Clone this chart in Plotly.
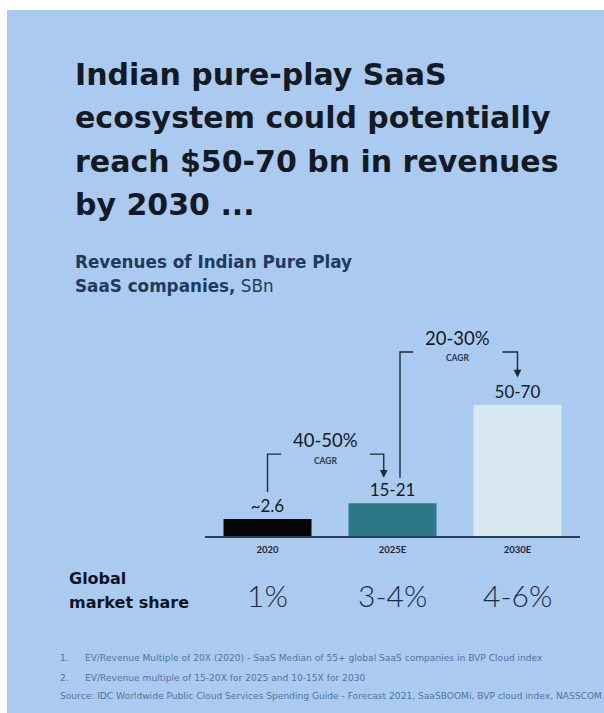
import plotly.graph_objects as go

# ---------------- data ----------------
years = ["2020", "2025E", "2030E"]
revenue_labels = ["~2.6", "15-21", "50-70"]          # $Bn, as printed
bar_heights = [2.6, 5.0, 20.0]                        # drawn heights (chart is not to scale)
bar_colors = ["#060606", "#2b7886", "#d8e8f1"]
market_share = ["1%", "3-4%", "4-6%"]
cagr_labels = ["40-50%", "20-30%"]
title_lines = ["Indian pure-play SaaS", "ecosystem could potentially",
               "reach $50-70 bn in revenues", "by 2030 ..."]
subtitle_lines = ["<b>Revenues of Indian Pure Play</b>", "<b>SaaS companies,</b> SBn"]
footnotes = [
    ("1.", "EV/Revenue Multiple of 20X (2020) - SaaS Median of 55+ global SaaS companies in BVP Cloud index"),
    ("2.", "EV/Revenue multiple of 15-20X for 2025 and 10-15X for 2030"),
]
source = "Source: IDC Worldwide Public Cloud Services Spending Guide - Forecast 2021, SaaSBOOMi, BVP cloud index, NASSCOM"

W, H = 604, 713
BG = "#aacbef"
INK = "#131a24"
NAVY = "#1e3a5c"

def px_x(p):
    return p / W

def px_y(p):
    return 1 - p / H

fig = go.Figure()
fig.add_trace(go.Bar(
    x=list(range(len(years))), y=bar_heights, marker=dict(color=bar_colors, line=dict(width=0)),
    text=revenue_labels, textposition="outside", cliponaxis=False,
    textfont=dict(family="Lato", size=17, color=INK),
    hoverinfo="skip", width=0.704,
))

shapes = [
    dict(type="rect", xref="paper", yref="paper", x0=px_x(7), x1=1, y0=0, y1=px_y(10),
         fillcolor=BG, line=dict(width=0), layer="below"),
]
line_style = dict(color="#1f2b38", width=1.4)

# CAGR brackets: (left x, bottom y, top y, left end, right start, right x, arrow tip y)
brackets = [
    (0.0, 6.7, 12.5, 0.11, 0.82, 0.93, 8.9),
    (1.06, 8.9, 28.1, 1.165, 1.88, 2.0, 24.2),
]
annotations = []
for (lx, yb, yt, le, rs, rx, tip), lab in zip(brackets, cagr_labels):
    shapes.append(dict(type="path", xref="x", yref="y",
                       path=f"M {lx},{yb} L {lx},{yt} L {le},{yt}", line=line_style))
    shapes.append(dict(type="path", xref="x", yref="y",
                       path=f"M {rs},{yt} L {rx},{yt} L {rx},{tip + 1.2}", line=line_style))
    annotations.append(dict(x=rx, y=tip, ax=rx, ay=tip + 1.6, xref="x", yref="y",
                            axref="x", ayref="y", text="", showarrow=True,
                            arrowhead=2, arrowsize=1.1, arrowwidth=1.4, arrowcolor="#1f2b38"))
    cx = (le + rs) / 2
    annotations.append(dict(x=cx, y=yt + 2.2, xref="x", yref="y", text=lab, showarrow=False,
                            font=dict(family="Lato", size=18.5, color=INK)))
    annotations.append(dict(x=cx, y=yt - 1.0, xref="x", yref="y", text="<b>CAGR</b>",
                            showarrow=False, font=dict(family="Lato", size=8.5, color="#2a3a4c")))

# title
for i, t in enumerate(title_lines):
    annotations.append(dict(x=px_x(73), y=px_y(86 + 43 * i - 11), xref="paper", yref="paper",
                            xanchor="left", yanchor="middle", text=f"<b>{t}</b>",
                            showarrow=False, font=dict(family="DejaVu Sans", size=30, color=INK)))
for i, t in enumerate(subtitle_lines):
    annotations.append(dict(x=px_x(73), y=px_y(262 + 24 * i), xref="paper", yref="paper",
                            xanchor="left", yanchor="middle", text=t,
                            showarrow=False, font=dict(family="DejaVu Sans", size=16.8, color=NAVY)))

# global market share
for i, t in enumerate(["Global", "market share"]):
    annotations.append(dict(x=px_x(67), y=px_y(578 + 24 * i), xref="paper", yref="paper",
                            xanchor="left", yanchor="middle", text=f"<b>{t}</b>", showarrow=False,
                            font=dict(family="DejaVu Sans", size=16, color="#0d1520")))
for i, ms in enumerate(market_share):
    annotations.append(dict(x=i, y=px_y(595), xref="x", yref="paper", yanchor="middle",
                            text=ms, showarrow=False,
                            font=dict(family="Lato", size=30, color="#1b2c45", weight=300)))

# footnotes
FN = dict(family="DejaVu Sans", size=9.1, color="#5273a0")
for i, (num, txt) in enumerate(footnotes):
    yy = px_y(658 + 20 * i)
    annotations.append(dict(x=px_x(58), y=yy, xref="paper", yref="paper", xanchor="left",
                            yanchor="middle", text=num, showarrow=False, font=FN))
    annotations.append(dict(x=px_x(83), y=yy, xref="paper", yref="paper", xanchor="left",
                            yanchor="middle", text=txt, showarrow=False, font=FN))
annotations.append(dict(x=px_x(58), y=px_y(696), xref="paper", yref="paper", xanchor="left",
                        yanchor="middle", text=source, showarrow=False, font=FN))

fig.update_layout(
    width=W, height=H, margin=dict(l=0, r=0, t=0, b=0),
    paper_bgcolor="white", plot_bgcolor="rgba(0,0,0,0)",
    showlegend=False, shapes=shapes, annotations=annotations,
    xaxis=dict(domain=[px_x(205), px_x(580)], range=[-0.5, 2.5],
               tickmode="array", tickvals=list(range(len(years))), ticktext=years,
               showline=True, linecolor="#2a3d52", linewidth=1.5, ticks="",
               ticklabelstandoff=4,
               showgrid=False, zeroline=False, fixedrange=True,
               tickfont=dict(family="Lato", size=9.5, color="#1a2838", weight=700)),
    yaxis=dict(domain=[px_y(536), px_y(330)], range=[0, 206 / 6.55], visible=False,
               showgrid=False, zeroline=False, fixedrange=True),
)
fig.write_html("out.html")
